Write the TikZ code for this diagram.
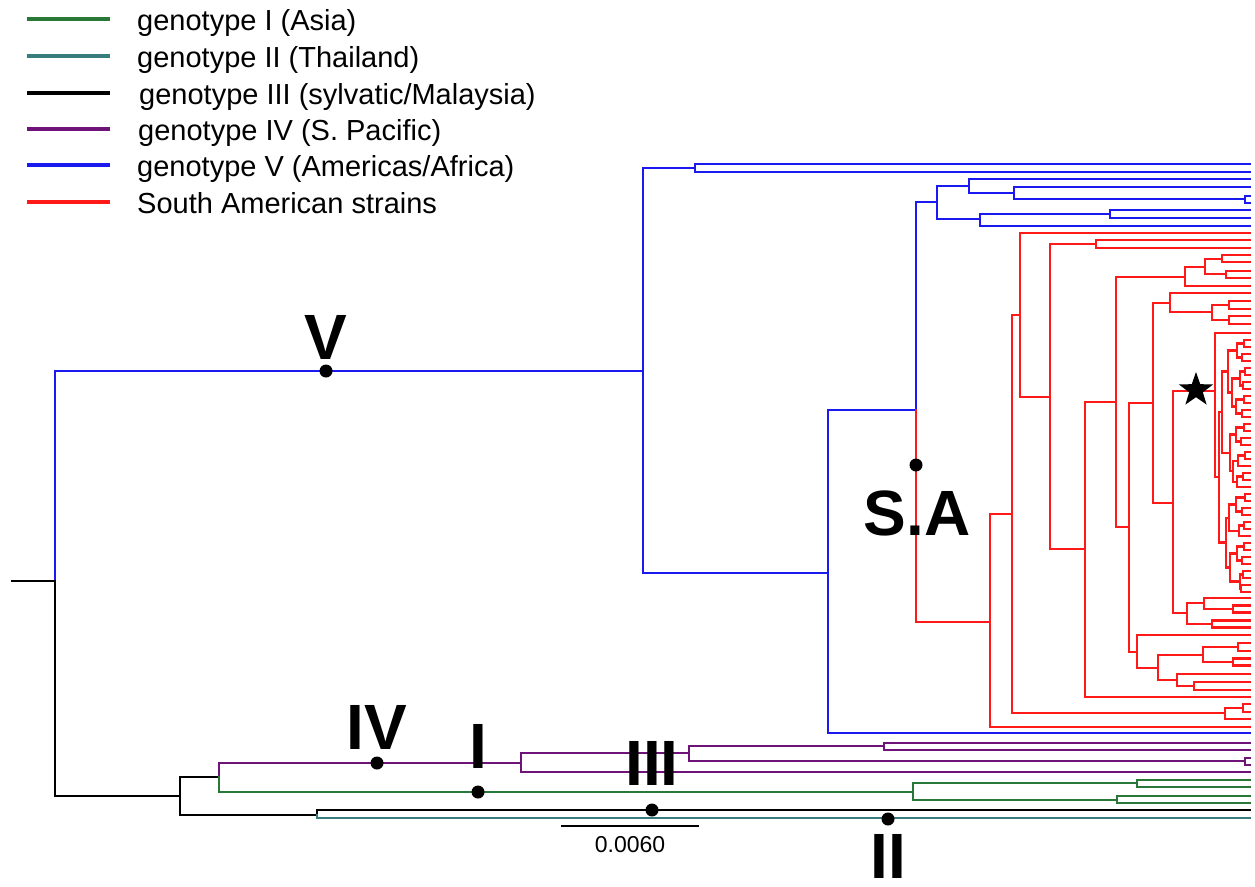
\documentclass[tikz,border=0pt]{standalone}
\usepackage{fontspec}
\setmainfont{Liberation Sans}
\usetikzlibrary{shapes.geometric}
\definecolor{gI}{RGB}{40,120,55}
\definecolor{gII}{RGB}{55,125,125}
\definecolor{gIV}{RGB}{110,20,120}
\definecolor{gV}{RGB}{25,25,240}
\definecolor{sa}{RGB}{255,25,25}
\newcommand\cl[5]{\draw (#3,#2) -- (#1,#2) -- (#1,#4) -- (#5,#4);}
\def\E{1250}
\begin{document}
\begin{tikzpicture}[x=1pt,y=-1pt, line cap=rect, line join=miter,
  br/.style={line width=2.1pt},
  brthin/.style={line width=1.8pt},
  legline/.style={line width=4.5pt, line cap=butt},
  legtext/.style={anchor=base west, inner sep=0, font=\fontsize{29}{31}\selectfont},
  dot/.style={circle, fill=black, inner sep=0, minimum size=13pt},
  biglab/.style={inner sep=0, font=\fontsize{64}{64}\selectfont\bfseries},
]
\path[use as bounding box, fill=white] (0,0) rectangle (1255,886);

% legend
\draw[legline, gI]  (27,19)  -- (110,19);
\draw[legline, gII] (27,56)  -- (110,56);
\draw[legline, black] (27,93) -- (110,93);
\draw[legline, gIV] (27,129) -- (110,129);
\draw[legline, gV]  (27,165) -- (110,165);
\draw[legline, sa]  (27,202) -- (110,202);
\node[legtext] (l1) at (137,30)  {genotype I (Asia)};
\node[legtext] (l2) at (137,67)  {genotype II (Thailand)};
\node[legtext] (l3) at (139,104) {genotype III (sylvatic/Malaysia)};
\node[legtext] (l4) at (138,140) {genotype IV (S. Pacific)};
\node[legtext] (l5) at (137,176) {genotype V (Americas/Africa)};
\node[legtext] (l6) at (137,213) {South American strains};

% blue genotype V
\begin{scope}[gV, br]
\draw (55,581) -- (55,371) -- (643,371);
\cl{643}{168}{695}{573}{828}
\cl{695}{164}{\E}{172}{\E}
\cl{828}{410}{916}{733}{\E}
\draw (916,410) -- (916,202) -- (937,202);
\cl{937}{186}{969}{219}{980}
\cl{969}{179}{\E}{193}{1014}
\cl{1014}{187}{\E}{199}{1245}
\cl{1245}{196}{\E}{203}{\E}
\cl{980}{214}{1110}{226}{\E}
\cl{1110}{210}{\E}{218}{\E}
\end{scope}

% red South American strains
\begin{scope}[sa, br]
\draw (916,410) -- (916,622) -- (990,622);
\cl{990}{514}{1012}{727}{\E}
\cl{1012}{315}{1020}{713}{1225}
\cl{1225}{708}{1243}{719}{\E}
\cl{1243}{704}{\E}{712}{\E}
\cl{1020}{233}{\E}{397}{1050}
\cl{1050}{244}{1096}{549}{1085}
\cl{1096}{240}{\E}{248}{\E}
\cl{1085}{402}{1116}{697}{\E}
\cl{1116}{277}{1185}{527}{1129}
\cl{1185}{267}{1205}{286}{\E}
\cl{1205}{259}{1222}{274}{1226}
\cl{1222}{255}{\E}{262}{\E}
\cl{1226}{271}{\E}{278}{\E}
\cl{1129}{403}{1153}{652}{1137}
\cl{1153}{303}{1170}{503}{1173}
\cl{1170}{293}{\E}{312}{1212}
\cl{1212}{305}{1229}{320}{1229}
\cl{1229}{301}{\E}{309}{\E}
\cl{1229}{316}{\E}{324}{\E}
\cl{1173}{391}{1215}{613}{1187}
% star clade
\cl{1215}{333}{\E}{477}{1219}
\cl{1219}{412}{1222}{542.5}{1226}
\cl{1222}{371.5}{1228}{452.9}{1230}
\cl{1228}{350.5}{1237}{392.5}{1232}
\cl{1237}{343.5}{1244}{357.5}{1242}
\cl{1244}{340}{\E}{347}{\E}
\cl{1242}{354}{\E}{361}{\E}
\cl{1232}{378.5}{1240}{406.5}{1236}
\cl{1240}{371.5}{1245}{385.5}{1243}
\cl{1245}{368}{\E}{375}{\E}
\cl{1243}{382}{\E}{389}{\E}
\cl{1236}{399.5}{1244}{413.5}{1242}
\cl{1244}{396}{\E}{403}{\E}
\cl{1242}{410}{\E}{417}{\E}
\cl{1230}{434.5}{1236}{471.25}{1233}
\cl{1236}{427.5}{1244}{441.5}{1241}
\cl{1244}{424}{\E}{431}{\E}
\cl{1241}{438}{\E}{445}{\E}
\cl{1233}{460.75}{1238}{481.75}{1237}
\cl{1238}{455.5}{1245}{466}{\E}
\cl{1245}{452}{\E}{459}{\E}
\cl{1237}{476.5}{1243}{487}{\E}
\cl{1243}{473}{\E}{480}{\E}
\cl{1226}{517.6}{1229}{567.5}{1230}
\cl{1229}{504.5}{1236}{530.75}{1239}
\cl{1236}{497.5}{1245}{511.5}{1242}
\cl{1245}{494}{\E}{501}{\E}
\cl{1242}{508}{\E}{515}{\E}
\cl{1239}{525.5}{1244}{536}{\E}
\cl{1244}{522}{\E}{529}{\E}
\cl{1230}{553.5}{1237}{581.5}{1240}
\cl{1237}{546.5}{1244}{560.5}{1242}
\cl{1244}{543}{\E}{550}{\E}
\cl{1242}{557}{\E}{564}{\E}
\cl{1240}{574.5}{1243}{588.5}{1241}
\cl{1243}{571}{\E}{578}{\E}
\cl{1241}{585}{\E}{592}{\E}
% lower red clades
\cl{1187}{603}{1204}{624}{1212}
\cl{1204}{598}{\E}{609}{1233}
\cl{1233}{605.5}{\E}{612.5}{\E}
\cl{1212}{620.5}{\E}{627.5}{\E}
\cl{1137}{635}{\E}{668}{1158}
\cl{1158}{655}{1203}{680}{1177}
\cl{1203}{647}{1238}{662}{1233}
\cl{1238}{643}{\E}{651}{\E}
\cl{1233}{658.5}{\E}{665.5}{\E}
\cl{1177}{674}{\E}{686}{1194}
\cl{1194}{682}{\E}{690}{\E}
\end{scope}

% black root and lower genotypes
\begin{scope}[black, brthin]
\draw (12,581) -- (55,581) -- (55,796) -- (180,796);
\cl{180}{777}{219}{815}{317}
\draw (317,815) -- (317,810) -- (\E,810);
\end{scope}
\begin{scope}[gII, brthin]
\draw (317,815) -- (317,818) -- (\E,818);
\end{scope}
\begin{scope}[gIV, brthin]
\draw (219,777) -- (219,763) -- (521,763);
\cl{521}{753}{689}{772}{\E}
\cl{689}{746}{884}{761}{1245}
\cl{884}{743}{\E}{750}{\E}
\cl{1245}{758}{\E}{765}{\E}
\end{scope}
\begin{scope}[gI, brthin]
\draw (219,777) -- (219,792) -- (913,792);
\cl{913}{783}{1137}{800}{1117}
\cl{1137}{780}{\E}{787}{\E}
\cl{1117}{796}{\E}{803}{\E}
\end{scope}

% scale bar
\coordinate (sbL) at (561,826);
\coordinate (sbR) at (699,826);
\draw[line width=2pt, line cap=butt] (sbL) -- (sbR);
\node[inner sep=0, font=\fontsize{23}{23}\selectfont] (sbt) at (630,845) {0.0060};

% dots
\node[dot] (dV)   at (326,371) {};
\node[dot] (dIV)  at (377,763) {};
\node[dot] (dI)   at (478,792) {};
\node[dot] (dIII) at (652,810) {};
\node[dot] (dII)  at (888,819) {};
\node[dot] (dSA)  at (916,465) {};

% labels
\node[biglab] (tV)   at (326,337) {V};
\node[biglab] (tIV)  at (377,727) {IV};
\node[biglab] (tI)   at (478,746) {I};
\node[biglab] (tIII) at (652,763) {III};
\node[biglab] (tII)  at (888,856) {II};
\node[biglab] (tSA)  at (917,513) {S.A};

% star
\node[star, star points=5, star point ratio=2.5, fill=black, inner sep=0, minimum size=36pt] (star) at (1196,390) {};
\end{tikzpicture}
\end{document}
